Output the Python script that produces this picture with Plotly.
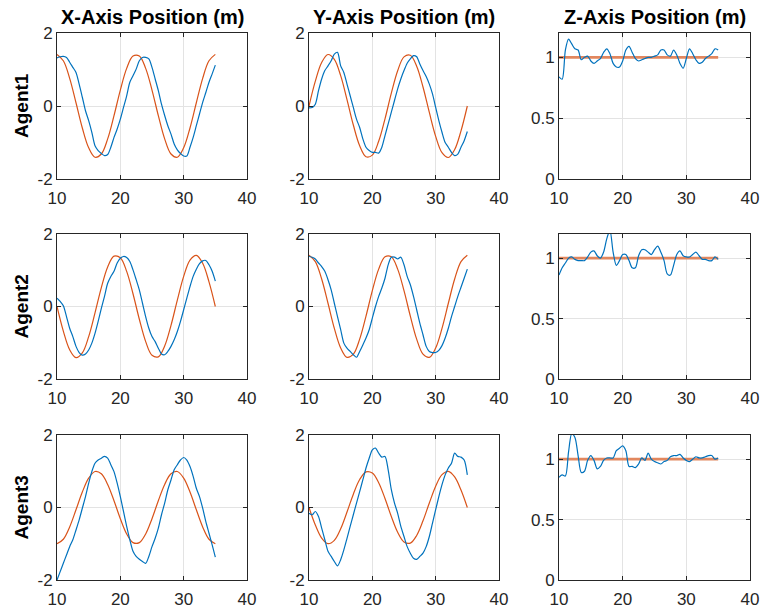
import plotly.graph_objects as go

# ---------------- data ----------------
T_REF = [10, 11, 12, 13, 14, 15, 16, 17, 18, 19, 20, 21, 22, 23, 24, 25,
         26, 27, 28, 29, 30, 31, 32, 33, 34, 35]
T_ACT = [10.0, 10.5, 11.0, 11.5, 12.0, 12.5, 13.0, 13.5, 14.0, 14.5, 15.0, 15.5,
         16.0, 16.5, 17.0, 17.5, 18.0, 18.5, 19.0, 19.5, 20.0, 20.5, 21.0, 21.5,
         22.0, 22.5, 23.0, 23.5, 24.0, 24.5, 25.0, 25.5, 26.0, 26.5, 27.0, 27.5,
         28.0, 28.5, 29.0, 29.5, 30.0, 30.5, 31.0, 31.5, 32.0, 32.5, 33.0, 33.5,
         34.0, 34.5, 35.0]

# reference trajectories (orange)
ref_a1_x = [1.414, 1.239, 0.758, 0.089, -0.602, -1.144, -1.403, -1.315, -0.901, -0.265,
            0.437, 1.031, 1.370, 1.370, 1.031, 0.437, -0.265, -0.901, -1.315, -1.403,
            -1.144, -0.602, 0.089, 0.758, 1.239, 1.414]
ref_a1_y = [0.0, 0.681, 1.194, 1.411, 1.279, 0.831, 0.177, -0.521, -1.090, -1.389,
            -1.345, -0.968, -0.352, 0.352, 0.968, 1.345, 1.389, 1.090, 0.521, -0.177,
            -0.831, -1.279, -1.411, -1.194, -0.681, 0.0]
ref_a2_x = [0.0, -0.681, -1.194, -1.411, -1.279, -0.831, -0.177, 0.521, 1.090, 1.389,
            1.345, 0.968, 0.352, -0.352, -0.968, -1.345, -1.389, -1.090, -0.521, 0.177,
            0.831, 1.279, 1.411, 1.194, 0.681, 0.0]
ref_a2_y = [1.414, 1.239, 0.758, 0.089, -0.602, -1.144, -1.403, -1.315, -0.901, -0.265,
            0.437, 1.031, 1.370, 1.370, 1.031, 0.437, -0.265, -0.901, -1.315, -1.403,
            -1.144, -0.602, 0.089, 0.758, 1.239, 1.414]
ref_a3_x = [-1.0, -0.876, -0.536, -0.063, 0.426, 0.809, 0.992, 0.930, 0.637, 0.187,
            -0.309, -0.729, -0.969, -0.969, -0.729, -0.309, 0.187, 0.637, 0.930, 0.992,
            0.809, 0.426, -0.063, -0.536, -0.876, -1.0]
ref_a3_y = [0.0, -0.482, -0.844, -0.998, -0.905, -0.588, -0.125, 0.368, 0.771, 0.982,
            0.951, 0.685, 0.249, -0.249, -0.685, -0.951, -0.982, -0.771, -0.368, 0.125,
            0.588, 0.905, 0.998, 0.844, 0.482, 0.0]
T_REF_Z = [10, 35]
ref_z = [1.0, 1.0]

# measured trajectories (blue)
act_a1_x = [1.32, 1.35, 1.36, 1.33, 1.20, 1.06, 0.92, 0.60, 0.24, -0.13, -0.40, -0.72,
            -1.09, -1.22, -1.30, -1.36, -1.33, -1.13, -0.86, -0.63, -0.36, -0.04, 0.28, 0.65,
            0.83, 1.01, 1.24, 1.33, 1.33, 1.29, 1.06, 0.74, 0.42, 0.05, -0.26, -0.54,
            -0.77, -1.04, -1.20, -1.30, -1.37, -1.37, -1.13, -0.86, -0.54, -0.22, 0.10, 0.37,
            0.65, 0.88, 1.12]
act_a1_y = [-0.05, -0.04, 0.05, 0.42, 0.74, 0.97, 1.10, 1.24, 1.42, 1.47, 1.10, 0.92,
            0.60, 0.28, -0.04, -0.36, -0.59, -0.90, -1.13, -1.22, -1.27, -1.27, -1.29, -1.13,
            -0.81, -0.49, -0.17, 0.15, 0.47, 0.74, 0.97, 1.17, 1.29, 1.38, 1.35, 1.15,
            0.97, 0.81, 0.60, 0.33, -0.04, -0.40, -0.72, -1.00, -1.13, -1.27, -1.36, -1.32,
            -1.13, -0.95, -0.70]
act_a2_x = [0.23, 0.14, 0.02, -0.28, -0.60, -0.83, -1.10, -1.27, -1.34, -1.31, -1.20, -1.01,
            -0.74, -0.41, -0.05, 0.28, 0.64, 0.83, 0.97, 1.20, 1.33, 1.38, 1.35, 1.24,
            1.01, 0.74, 0.46, 0.09, -0.28, -0.60, -0.83, -0.97, -1.15, -1.31, -1.33, -1.24,
            -1.10, -0.92, -0.69, -0.41, -0.09, 0.23, 0.55, 0.83, 1.03, 1.18, 1.26, 1.27,
            1.15, 0.97, 0.70]
act_a2_y = [1.38, 1.36, 1.31, 1.20, 1.10, 0.97, 0.74, 0.46, 0.09, -0.28, -0.64, -1.01,
            -1.15, -1.24, -1.33, -1.40, -1.24, -1.06, -0.87, -0.64, -0.32, 0.00, 0.28, 0.51,
            0.78, 1.15, 1.36, 1.36, 1.31, 1.36, 1.15, 0.83, 0.60, 0.28, -0.09, -0.46,
            -0.78, -1.10, -1.24, -1.27, -1.27, -1.21, -1.08, -0.87, -0.60, -0.28, 0.00, 0.28,
            0.53, 0.78, 1.03]
act_a3_x = [-2.00, -1.77, -1.54, -1.31, -1.08, -0.89, -0.62, -0.34, -0.02, 0.30, 0.67, 0.99,
            1.22, 1.31, 1.36, 1.41, 1.36, 1.18, 0.99, 0.67, 0.30, -0.11, -0.52, -0.89,
            -1.21, -1.35, -1.43, -1.49, -1.54, -1.35, -1.08, -0.85, -0.57, -0.20, 0.12, 0.49,
            0.76, 1.04, 1.18, 1.31, 1.38, 1.31, 1.13, 0.86, 0.53, 0.30, -0.02, -0.39,
            -0.71, -1.03, -1.37]
act_a3_y = [-0.16, -0.20, -0.11, -0.25, -0.57, -0.89, -1.21, -1.35, -1.49, -1.61, -1.44, -1.17,
            -0.85, -0.52, -0.20, 0.12, 0.44, 0.76, 1.09, 1.36, 1.59, 1.64, 1.50, 1.39,
            1.41, 1.04, 0.49, 0.12, -0.16, -0.52, -0.80, -1.08, -1.26, -1.40, -1.43, -1.35,
            -1.26, -1.08, -0.80, -0.43, -0.06, 0.30, 0.63, 0.90, 1.09, 1.22, 1.50, 1.41,
            1.39, 1.31, 0.90]
act_a1_z = [0.84, 0.82, 1.06, 1.15, 1.11, 1.07, 1.06, 0.98, 1.00, 1.01, 0.97, 0.95,
            0.97, 0.99, 1.04, 1.07, 1.03, 0.95, 0.92, 0.92, 0.97, 1.06, 1.09, 1.04,
            0.99, 0.97, 0.98, 0.99, 1.00, 1.00, 1.01, 1.02, 1.06, 1.06, 1.02, 1.01,
            1.06, 1.02, 0.95, 0.91, 0.99, 1.07, 1.03, 0.98, 0.95, 0.96, 0.99, 1.01,
            1.03, 1.07, 1.06]
act_a2_z = [0.86, 0.92, 0.96, 1.00, 1.01, 0.99, 0.98, 0.98, 0.98, 1.01, 1.05, 1.06,
            1.02, 1.00, 1.05, 1.16, 1.23, 1.05, 0.94, 0.98, 1.03, 1.03, 0.98, 0.92,
            0.92, 1.02, 1.07, 1.07, 1.05, 1.03, 1.07, 1.10, 1.05, 0.98, 0.87, 0.86,
            0.94, 1.03, 1.06, 1.02, 1.01, 1.01, 1.03, 1.05, 1.02, 0.99, 0.99, 0.98,
            0.98, 1.01, 0.99]
act_a3_z = [0.85, 0.87, 0.86, 1.06, 1.21, 1.18, 1.03, 0.89, 0.90, 0.99, 1.03, 0.99,
            0.92, 0.94, 0.99, 1.01, 1.01, 1.01, 1.07, 1.09, 1.11, 1.07, 0.94, 0.94,
            0.93, 0.96, 1.01, 0.99, 1.05, 1.00, 0.98, 0.97, 0.96, 0.98, 0.99, 1.02,
            1.03, 1.03, 1.04, 1.01, 0.99, 0.98, 1.00, 1.02, 1.01, 1.01, 1.02, 1.03,
            1.03, 1.00, 1.01]

col_titles = ["X-Axis Position (m)", "Y-Axis Position (m)", "Z-Axis Position (m)"]
row_labels = ["Agent1", "Agent2", "Agent3"]
x_ticks = [10, 20, 30, 40]
xy_ticks = [-2, 0, 2]
z_ticks = [0, 0.5, 1]
z_ticktext = ["0", "0.5", "1"]

ACT = [[act_a1_x, act_a1_y, act_a1_z],
       [act_a2_x, act_a2_y, act_a2_z],
       [act_a3_x, act_a3_y, act_a3_z]]
REF = [[ref_a1_x, ref_a1_y, ref_z],
       [ref_a2_x, ref_a2_y, ref_z],
       [ref_a3_x, ref_a3_y, ref_z]]

# ---------------- layout ----------------
W, H = 761, 609
col_px = [(57, 247), (309, 499), (559, 750)]     # page pixels
row_px = [(33, 179), (234, 379), (435, 580)]
BLUE = "#0072BD"
ORANGE = "#D95319"
AX = "#262626"
FONT = "Liberation Sans, Arial, Helvetica, sans-serif"


def fx(px):
    return px / W


def fy(px):
    return 1 - px / H


fig = go.Figure()
layout = dict(width=W, height=H, margin=dict(l=0, r=0, t=0, b=0, autoexpand=False),
              paper_bgcolor="white", plot_bgcolor="white", showlegend=False,
              font=dict(family=FONT, color=AX))
annotations = []

for r in range(3):
    for c in range(3):
        k = r * 3 + c + 1
        xa = "x" if k == 1 else f"x{k}"
        ya = "y" if k == 1 else f"y{k}"
        is_z = (c == 2)
        if is_z:
            fig.add_trace(go.Scatter(x=T_REF_Z, y=REF[r][c], xaxis=xa, yaxis=ya, mode="lines",
                                     line=dict(color="#E2875E", width=2.6),
                                     hoverinfo="skip"))
        else:
            fig.add_trace(go.Scatter(x=T_REF, y=REF[r][c], xaxis=xa, yaxis=ya, mode="lines",
                                     line=dict(color=ORANGE, width=1.2, shape="spline"),
                                     hoverinfo="skip"))
        fig.add_trace(go.Scatter(x=T_ACT, y=ACT[r][c], xaxis=xa, yaxis=ya, mode="lines",
                                 line=dict(color=BLUE, width=1.2, shape="spline", smoothing=0.8),
                                 hoverinfo="skip"))
        x0, x1 = col_px[c]
        y0, y1 = row_px[r]
        common = dict(showline=True, linecolor=AX, linewidth=1, mirror="ticks",
                      ticks="inside", ticklen=4, tickcolor=AX, tickwidth=1,
                      showgrid=True, gridcolor="#e3e3e3", gridwidth=1, zeroline=False,
                      automargin=False,
                      tickfont=dict(size=17, color=AX, family=FONT), fixedrange=True)
        layout["xaxis" if k == 1 else f"xaxis{k}"] = dict(
            domain=[fx(x0), fx(x1)], range=[10, 40], tickvals=x_ticks,
            anchor=ya, ticklabelstandoff=4, **common)
        if is_z:
            ydict = dict(range=[0, 1.2], tickvals=z_ticks, ticktext=z_ticktext)
        else:
            ydict = dict(range=[-2, 2], tickvals=xy_ticks, ticktext=[str(v) for v in xy_ticks])
        layout["yaxis" if k == 1 else f"yaxis{k}"] = dict(
            domain=[fy(y1), fy(y0)], anchor=xa, **ydict, **common)

for c in range(3):
    x0, x1 = col_px[c]
    annotations.append(dict(text="<b>%s</b>" % col_titles[c], xref="paper", yref="paper",
                            x=fx((x0 + x1) / 2), y=fy(30), xanchor="center", yanchor="bottom",
                            showarrow=False, font=dict(size=20, color="black", family=FONT)))
for r in range(3):
    y0, y1 = row_px[r]
    annotations.append(dict(text="<b>%s</b>" % row_labels[r], xref="paper", yref="paper",
                            x=fx(21), y=fy((y0 + y1) / 2), xanchor="center", yanchor="middle",
                            textangle=-90, showarrow=False,
                            font=dict(size=19, color="black", family=FONT)))
layout["annotations"] = annotations
fig.update_layout(**layout)
fig.write_html("out.html", config={"displayModeBar": False, "staticPlot": True},
               post_script="document.body.style.margin='0';document.body.style.overflow='hidden';")
